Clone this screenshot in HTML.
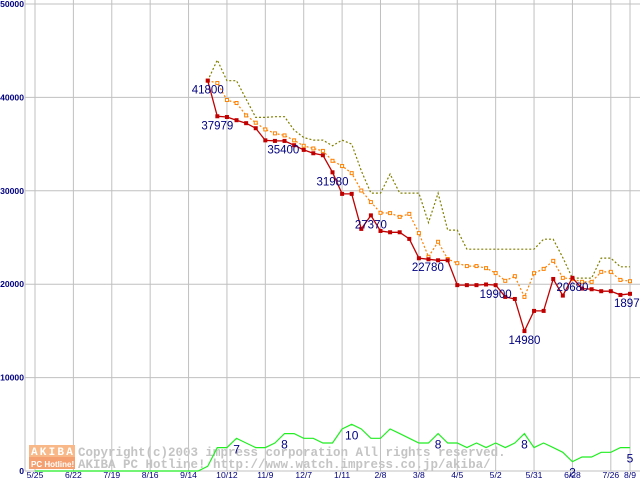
<!DOCTYPE html>
<html><head><meta charset="utf-8"><style>
html,body{margin:0;padding:0;background:#fff;}
svg{display:block;}
</style></head><body>
<svg id="chart" width="640" height="480" viewBox="0 0 640 480" xmlns="http://www.w3.org/2000/svg" font-family="Liberation Sans, sans-serif">
<g id="grid"></g>
<g id="ylabels"></g>
<g id="xlabels"></g>
<g id="watermark">
  <rect x="29" y="445" width="46" height="12" fill="#f8b888"/>
  <rect x="29" y="457" width="46" height="12" fill="#f4a070"/>
  <text x="31" y="455" font-size="11" font-weight="bold" fill="#fff" letter-spacing="2.2" font-family="Liberation Mono, monospace">AKIBA</text>
  <text x="31" y="467" font-size="8" font-weight="bold" fill="#fff">PC Hotline!</text>
  <text x="78" y="456" font-size="12.5" font-weight="bold" fill="#c4c4c4" font-family="Liberation Mono, monospace">Copyright(c)2003 impress corporation All rights reserved.</text>
  <text x="78" y="468" font-size="12.5" font-weight="bold" fill="#c4c4c4" font-family="Liberation Mono, monospace">AKIBA PC Hotline! http://www.watch.impress.co.jp/akiba/</text>
</g>
<g id="series"></g>
<g id="labels"></g>
</svg>
<script>
const xTickLabels = ["5/25","6/22","7/19","8/16","9/14","10/12","11/9","12/7","1/11","2/8","3/8","4/5","5/2","5/31","6/28","7/26","8/9"];
const xTickIndex = [0,4,8,12,16,20,24,28,32,36,40,44,48,52,56,60,62];
const yTicks = [0,10000,20000,30000,40000,50000];
const startIndex = 18;
const minPrice = [41800,37979,37900,37560,37240,36700,35400,35340,35340,34880,34380,34020,33810,31980,29670,29670,25920,27370,25700,25560,25560,24850,22780,22670,22560,22560,19900,19900,19900,19970,19900,18640,18420,14980,17140,17140,20560,18780,20680,19530,19460,19250,19250,18850,18970];
const avgPrice = [41790,41540,39720,39400,38070,37290,36570,36150,35930,35400,34820,34530,34270,33210,32650,31890,30030,28790,27640,27610,27210,27530,25470,22930,24540,22700,22250,21940,21940,21720,21190,20360,20860,18640,21180,21640,22500,20680,20570,20250,20250,21320,21320,20460,20320];
const maxPrice = [41790,44000,41790,41790,39820,37860,37860,37930,37930,36500,35710,35430,35430,34820,35430,35000,32140,29750,29750,31790,29750,29750,29750,26600,29750,25790,25790,23750,23750,23750,23750,23750,23750,23750,23750,24820,24820,22850,20650,20650,20650,22790,22790,21860,21860];
const shopCount = [0,0,0,0,0,0,0,0,0,0,0,0,0,0,0,0,0,0,1,5,5,7,6,5,5,6,8,8,7,7,6,6,9,10,9,7,7,9,8,7,6,6,8,6,6,5,6,5,6,5,6,8,5,6,5,4,2,3,3,4,4,5,5];
const priceLabelIdx = [18,19,24,31,35,40,48,51,56,62];
const countLabelIdx = [21,26,33,42,51,56,62];

const NS="http://www.w3.org/2000/svg";
const X0=35, DX=9.597, Y0=471, SY=0.00934, COUNT_UNIT=500;
function xs(i){return X0+i*DX;}
function ys(v){return Y0-v*SY;}
function mk(tag,attrs,parent){const e=document.createElementNS(NS,tag);for(const k in attrs)e.setAttribute(k,attrs[k]);parent.appendChild(e);return e;}

const grid=document.getElementById('grid');
const l0=mk('line',{x1:25,y1:0,x2:25,y2:471,stroke:'#c0c0c0','stroke-width':1},grid);


yTicks.forEach(v=>{
  const l=mk('line',{x1:25,y1:ys(v),x2:640,y2:ys(v),stroke:'#c0c0c0','stroke-width':1},grid);
  
  
  const t=mk('text',{x:24,y:ys(v)+3,'text-anchor':'end','font-size':8.6,'font-weight':'bold',fill:'#000080'},document.getElementById('ylabels'));
  t.textContent=v===0?'0':String(v);
  
  
});
xTickIndex.forEach((ix,k)=>{
  const x=xs(ix);
  const l=mk('line',{x1:x,y1:0,x2:x,y2:471,stroke:'#c0c0c0','stroke-width':1},grid);
  
  
  const t=mk('text',{x:x,y:478,'text-anchor':'middle','font-size':8.6,fill:'#000080'},document.getElementById('xlabels'));
  t.textContent=xTickLabels[k];
  
  
});

const series=document.getElementById('series');
function pts(arr,off,scale){return arr.map((v,i)=>xs(i+off).toFixed(1)+','+ys(v*scale).toFixed(1)).join(' ');}
const g=mk('polyline',{points:pts(shopCount,0,COUNT_UNIT),fill:'none',stroke:'#22ee22','stroke-width':1.2},series);


const mx=mk('polyline',{points:pts(maxPrice,startIndex,1),fill:'none',stroke:'#808000','stroke-width':1.2,'stroke-dasharray':'2,2'},series);


const av=mk('polyline',{points:pts(avgPrice,startIndex,1),fill:'none',stroke:'#ff8000','stroke-width':1.2,'stroke-dasharray':'2,2'},series);


avgPrice.forEach((v,i)=>{
  const r=mk('rect',{x:xs(i+startIndex)-1.5,y:ys(v)-1.5,width:3,height:3,fill:'#fff',stroke:'#ff8000','stroke-width':1},series);
  
  
});
const mn=mk('polyline',{points:pts(minPrice,startIndex,1),fill:'none',stroke:'#c00000','stroke-width':1.3},series);


minPrice.forEach((v,i)=>{
  const r=mk('rect',{x:xs(i+startIndex)-2,y:ys(v)-2,width:4,height:4,fill:'#c00000'},series);
  
  
});

const labels=document.getElementById('labels');
const priceDx={24:18,40:9};
priceLabelIdx.forEach(ix=>{
  const v=minPrice[ix-startIndex];
  const t=mk('text',{x:xs(ix)+(priceDx[ix]||0),y:ys(v)+13,'text-anchor':'middle','font-size':11.5,fill:'#000080'},labels);
  t.textContent=String(v);
  
  
});
countLabelIdx.forEach(ix=>{
  const v=shopCount[ix];
  const t=mk('text',{x:xs(ix),y:ys(v*COUNT_UNIT)+15,'text-anchor':'middle','font-size':12,fill:'#000080'},labels);
  t.textContent=String(v);
  
  
});
</script>
</body></html>
